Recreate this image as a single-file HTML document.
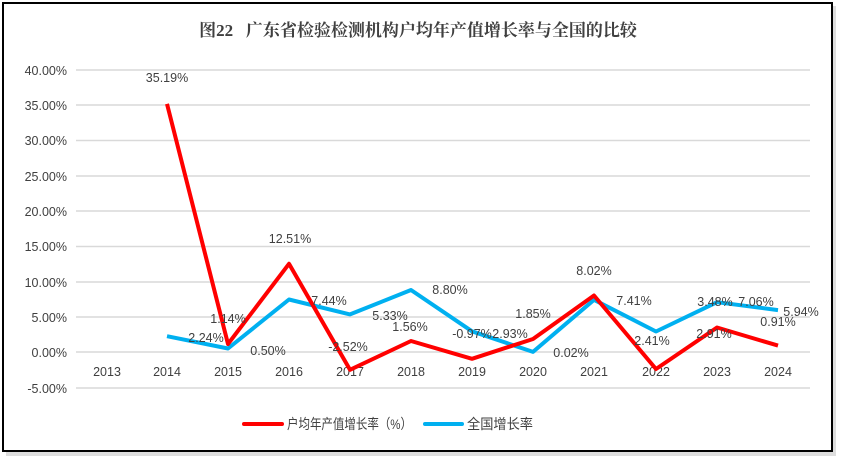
<!DOCTYPE html><html><head><meta charset="utf-8"><style>body{margin:0;background:#fff}svg{display:block}text{font-family:"Liberation Sans","Noto Sans CJK SC",sans-serif;fill:#404040}</style></head><body>
<svg width="843" height="463" viewBox="0 0 843 463">
<rect x="6" y="6" width="830" height="450" fill="#bbb" opacity="0.5"/>
<rect x="3" y="3" width="829" height="448" fill="#fff" stroke="#000" stroke-width="2"/>
<text x="418" y="36" text-anchor="middle" xml:space="preserve" style="font-family:'Liberation Serif','Noto Serif CJK SC',serif;font-weight:bold;font-size:17px;fill:#404040;white-space:pre">图22   广东省检验检测机构户均年产值增长率与全国的比较</text>
<g stroke="#d9d9d9" stroke-width="1.5">
<line x1="76" x2="810" y1="70" y2="70"/><line x1="76" x2="810" y1="105" y2="105"/><line x1="76" x2="810" y1="140.5" y2="140.5"/><line x1="76" x2="810" y1="176" y2="176"/><line x1="76" x2="810" y1="211" y2="211"/><line x1="76" x2="810" y1="246.5" y2="246.5"/><line x1="76" x2="810" y1="282" y2="282"/><line x1="76" x2="810" y1="317" y2="317"/><line x1="76" x2="810" y1="352" y2="352"/><line x1="76" x2="810" y1="388" y2="388"/>
</g>
<g font-size="12.5" text-anchor="end">
<text x="67" y="75">40.00%</text><text x="67" y="110">35.00%</text><text x="67" y="145">30.00%</text><text x="67" y="181">25.00%</text><text x="67" y="216">20.00%</text><text x="67" y="251">15.00%</text><text x="67" y="287">10.00%</text><text x="67" y="322">5.00%</text><text x="67" y="357">0.00%</text><text x="67" y="393">-5.00%</text>
</g>
<g font-size="12.5" text-anchor="middle">
<text x="107" y="376">2013</text><text x="167" y="376">2014</text><text x="228" y="376">2015</text><text x="289" y="376">2016</text><text x="350" y="376">2017</text><text x="411" y="376">2018</text><text x="472" y="376">2019</text><text x="533" y="376">2020</text><text x="594" y="376">2021</text><text x="656" y="376">2022</text><text x="717" y="376">2023</text><text x="778" y="376">2024</text>
</g>
<polyline fill="none" stroke="#00b0f0" stroke-width="4" stroke-linejoin="round" points="167,336.2 228,348.5 289,299.5 350,314.4 411,290 472,331.3 533,351.9 594,299.8 656,331.5 717,302.2 778,310.1"/>
<polyline fill="none" stroke="#ff0000" stroke-width="4" stroke-linejoin="round" points="167,103.9 228,344 289,263.8 350,369.8 411,341 472,358.8 533,339 594,295.5 656,369 717,327.5 778,345.6"/>
<g font-size="12.5" text-anchor="middle">
<text x="167" y="82">35.19%</text><text x="228" y="323">1.14%</text><text x="206" y="342">2.24%</text><text x="268" y="355">0.50%</text><text x="290" y="243">12.51%</text><text x="329" y="305">7.44%</text><text x="390" y="320">5.33%</text><text x="348" y="351">-2.52%</text><text x="450" y="294">8.80%</text><text x="410" y="331">1.56%</text><text x="472" y="338">-0.97%</text><text x="510" y="338">2.93%</text><text x="533" y="318">1.85%</text><text x="571" y="357">0.02%</text><text x="594" y="275">8.02%</text><text x="634" y="305">7.41%</text><text x="652" y="345">2.41%</text><text x="714" y="338">2.91%</text><text x="715" y="306">3.48%</text><text x="756" y="306">7.06%</text><text x="801" y="316">5.94%</text><text x="778" y="326">0.91%</text>
</g>
<line x1="244" x2="282" y1="424" y2="424" stroke="#ff0000" stroke-width="4" stroke-linecap="round"/>
<text x="287" y="429" font-size="14" textLength="125" lengthAdjust="spacingAndGlyphs">户均年产值增长率（%）</text>
<line x1="425" x2="462" y1="424" y2="424" stroke="#00b0f0" stroke-width="4" stroke-linecap="round"/>
<text x="467" y="429" font-size="14" textLength="66" lengthAdjust="spacingAndGlyphs">全国增长率</text>
</svg></body></html>
